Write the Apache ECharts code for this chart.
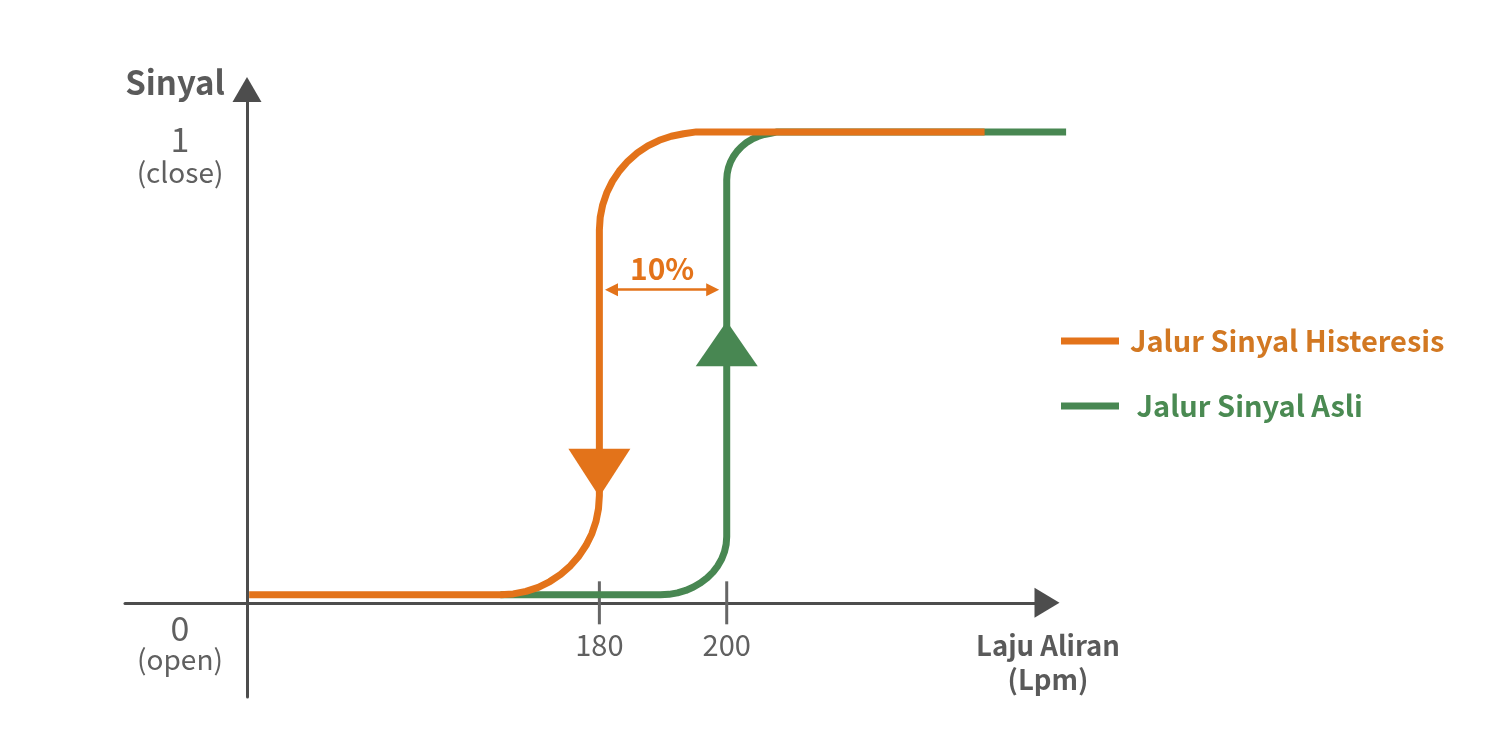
<!DOCTYPE html>
<html>
<head>
<meta charset="utf-8">
<script src="https://cdn.jsdelivr.net/npm/echarts@6/dist/echarts.min.js"></script>
<style>
  html, body { margin: 0; padding: 0; background: #ffffff; }
  #chart { width: 1500px; height: 750px; }
</style>
</head>
<body>
<div id="chart"></div>
<script>
// ---------- data ----------
const seriesNames = ['Jalur Sinyal Histeresis', ' Jalur Sinyal Asli'];
// hysteresis (falling) path: [flow Lpm, signal]
const hysteresisPath = [
  [125.0, 0.017], [164.46, 0.017], [166.48, 0.0189], [168.48, 0.0242], [170.41, 0.0329],
  [172.23, 0.0452], [173.92, 0.0605], [175.45, 0.0786], [176.78, 0.0992], [177.91, 0.1221],
  [178.82, 0.1467], [179.47, 0.1728], [179.86, 0.1998], [180.0, 0.2272],
  [180.0, 0.7919], [180.13, 0.8188], [180.52, 0.8452], [181.16, 0.8707], [182.04, 0.8949],
  [183.15, 0.9173], [184.46, 0.9376], [185.96, 0.9553], [187.61, 0.9703], [189.40, 0.9822],
  [191.29, 0.9908], [193.24, 0.9961], [195.23, 1.0], [240.5, 1.0]
];
// original (rising) path
const originalPath = [
  [164.46, 0.017], [189.58, 0.017], [190.94, 0.0180], [192.27, 0.0212], [193.57, 0.0263],
  [194.79, 0.0335], [195.92, 0.0424], [196.95, 0.0531], [197.85, 0.0652], [198.60, 0.0786],
  [199.21, 0.0930], [199.65, 0.1083], [199.91, 0.1241], [200.0, 0.1401],
  [200.0, 0.8981], [200.07, 0.9111], [200.27, 0.9239], [200.60, 0.9363], [201.06, 0.9480],
  [201.64, 0.9588], [202.33, 0.9686], [203.11, 0.9773], [203.97, 0.9845], [204.90, 0.9903],
  [205.89, 0.9945], [206.91, 0.9970], [207.94, 1.0], [253.3, 1.0]
];
const hysteresisArrow = [[180.0, 0.276]];   // downward direction marker
const originalArrow = [[200.0, 0.550]];     // upward direction marker
const xTickValues = [180, 200];
const yTickValues = [0, 1];
const yTickWords = { 0: '(open)', 1: '(close)' };
const gapArrowX = [181.9, 197.8];
const gapArrowY = 0.665;
const gapLabel = '10%';
const xAxisName = 'Laju Aliran\n(Lpm)';
const yAxisName = 'Sinyal';
const tickMarks = xTickValues.map(v => [v, 0]);

// axis ranges
const X_MIN = 105.5, X_MAX = 250.3;
const Y_MIN = -0.2, Y_MAX = 1.09;
// the data grid shares the same scale but is wider so the green tail past the arrow is not cut
const GRID_LEFT = 125, GRID_TOP = 89.5, GRID_W = 922, GRID_H = 607.5;
const DATA_GRID_W = 960;
const X_MAX_DATA = X_MIN + (X_MAX - X_MIN) * DATA_GRID_W / GRID_W;

// ---------- styles ----------
const ORANGE = '#E3731A';
const GREEN = '#488752';
const AXIS = '#4D4D4D';
const LABEL = '#606060';
const FONT = '"Noto Sans CJK SC", "Source Sans Pro", "Noto Sans", sans-serif';

const chart = echarts.init(document.getElementById('chart'), null, { renderer: 'canvas' });

chart.setOption({
  backgroundColor: '#ffffff',
  animation: false,
  textStyle: { fontFamily: FONT },
  grid: [
    { left: GRID_LEFT, top: GRID_TOP, width: GRID_W, height: GRID_H, containLabel: false },
    { left: GRID_LEFT, top: GRID_TOP, width: DATA_GRID_W, height: GRID_H, containLabel: false }
  ],
  legend: {
    orient: 'vertical',
    left: 1061,
    top: 321,
    padding: 0,
    icon: 'rect',
    itemWidth: 58,
    itemHeight: 7,
    itemGap: 25,
    selectedMode: false,
    textStyle: { fontFamily: FONT, fontSize: 29, fontWeight: 600, lineHeight: 40, padding: [0, 0, 0, 6] },
    data: [
      { name: seriesNames[0], textStyle: { color: '#D27822' } },
      { name: seriesNames[1], textStyle: { color: '#4A8A52' } }
    ]
  },
  xAxis: [
    {
      type: 'value',
      gridIndex: 0,
      min: X_MIN,
      max: X_MAX,
      name: xAxisName,
      nameLocation: 'end',
      nameGap: 1,
      nameTextStyle: {
        fontFamily: FONT, fontSize: 27.5, fontWeight: 'bold', color: '#5A5A5A',
        align: 'center', verticalAlign: 'top', lineHeight: 34, padding: [26, 0, 0, 0]
      },
      axisLine: {
        show: true, onZero: true,
        symbol: ['none', 'triangle'], symbolSize: [30, 25],
        lineStyle: { color: AXIS, width: 3 }
      },
      axisTick: { show: false },
      splitLine: { show: false },
      axisLabel: {
        customValues: xTickValues,
        margin: -67,
        fontFamily: FONT, fontSize: 29, color: LABEL
      }
    },
    { type: 'value', gridIndex: 1, min: X_MIN, max: X_MAX_DATA, show: false }
  ],
  yAxis: [
    {
      type: 'value',
      gridIndex: 0,
      min: Y_MIN,
      max: Y_MAX,
      offset: -122,
      name: yAxisName,
      nameLocation: 'end',
      nameGap: 7,
      nameTextStyle: {
        fontFamily: FONT, fontSize: 33, fontWeight: 'bold', color: '#5A5A5A',
        align: 'right', verticalAlign: 'middle', padding: [0, 22, 0, 0]
      },
      axisLine: {
        show: true, onZero: false,
        symbol: ['none', 'triangle'], symbolSize: [29, 25],
        lineStyle: { color: AXIS, width: 3 }
      },
      axisTick: { show: false },
      splitLine: { show: false },
      axisLabel: {
        customValues: yTickValues,
        margin: 67,
        align: 'center',
        verticalAlign: 'top',
        formatter: function (v) {
          return v === 1
            ? '{n1|' + v + '}\n{w1|' + yTickWords[v] + '}'
            : '{n0|' + v + '}\n{w0|' + yTickWords[v] + '}';
        },
        rich: {
          n1: { fontFamily: FONT, fontSize: 34, color: LABEL, lineHeight: 14, align: 'center' },
          w1: { fontFamily: FONT, fontSize: 28, color: LABEL, lineHeight: 52, align: 'center' },
          n0: { fontFamily: FONT, fontSize: 34, color: LABEL, lineHeight: 50, align: 'center' },
          w0: { fontFamily: FONT, fontSize: 28, color: LABEL, lineHeight: 14, align: 'center' }
        }
      }
    },
    { type: 'value', gridIndex: 1, min: Y_MIN, max: Y_MAX, show: false }
  ],
  series: [
    {
      name: seriesNames[1],
      type: 'line',
      xAxisIndex: 1, yAxisIndex: 1,
      data: originalPath,
      showSymbol: false,
      symbol: 'none',
      color: GREEN,
      lineStyle: { color: GREEN, width: 7, join: 'round' },
      z: 3
    },
    {
      name: seriesNames[0],
      type: 'line',
      xAxisIndex: 1, yAxisIndex: 1,
      data: hysteresisPath,
      showSymbol: false,
      symbol: 'none',
      color: ORANGE,
      lineStyle: { color: ORANGE, width: 7, join: 'round' },
      z: 4,
      markLine: {
        silent: true,
        symbol: ['triangle', 'triangle'],
        symbolSize: 13,
        lineStyle: { color: ORANGE, width: 2.5, type: 'solid' },
        label: {
          show: true, position: 'middle', formatter: gapLabel, distance: 6,
          fontFamily: FONT, fontSize: 30, fontWeight: 600, color: ORANGE
        },
        data: [[
          { coord: [gapArrowX[0], gapArrowY] },
          { coord: [gapArrowX[1], gapArrowY] }
        ]]
      }
    },
    {
      type: 'scatter',
      xAxisIndex: 1, yAxisIndex: 1,
      data: tickMarks,
      symbol: 'rect',
      symbolSize: [3, 43],
      itemStyle: { color: '#666666', opacity: 1 },
      silent: true,
      z: 2
    },
    {
      type: 'scatter',
      xAxisIndex: 1, yAxisIndex: 1,
      data: hysteresisArrow,
      symbol: 'triangle',
      symbolSize: [62, 48],
      symbolRotate: 180,
      itemStyle: { color: ORANGE, opacity: 1 },
      silent: true,
      z: 5
    },
    {
      type: 'scatter',
      xAxisIndex: 1, yAxisIndex: 1,
      data: originalArrow,
      symbol: 'triangle',
      symbolSize: [62, 45],
      itemStyle: { color: GREEN, opacity: 1 },
      silent: true,
      z: 5
    }
  ]
});
</script>
</body>
</html>
